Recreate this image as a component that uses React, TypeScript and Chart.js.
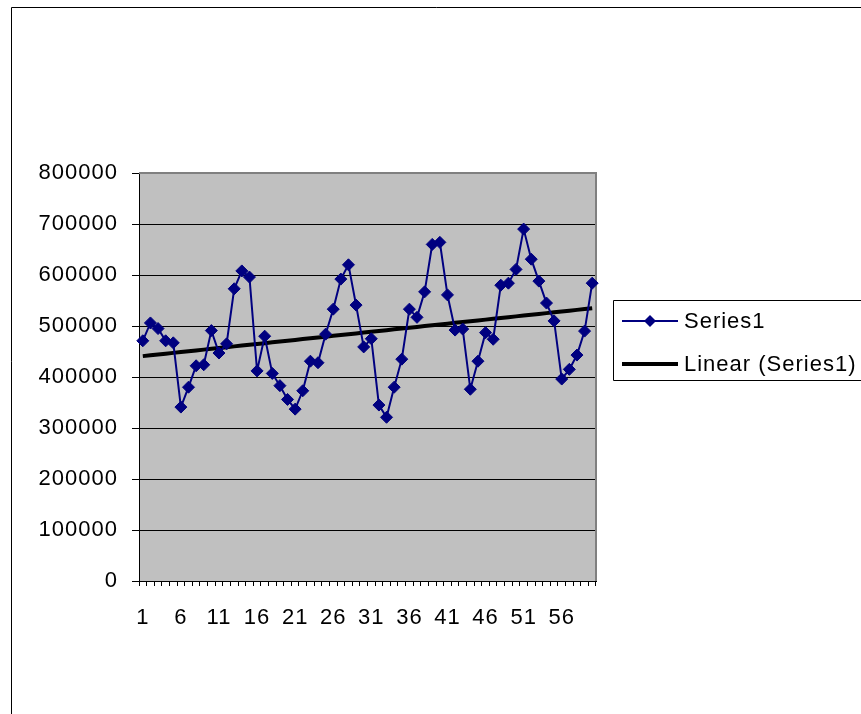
import React, { useEffect, useRef } from "react";
import { Chart, registerables } from "chart.js";

Chart.register(...registerables);

const categories: string[] = Array.from({ length: 60 }, (_, i) => String(i + 1));

const series1: number[] = [
  471000, 506000, 495000, 471000, 467000, 341000, 380000, 422000, 424000, 491000,
  447000, 465000, 573000, 608000, 596000, 412000, 480000, 407000, 383000, 356000,
  337000, 373000, 431000, 428000, 484000, 533000, 592000, 620000, 541000, 459000,
  475000, 345000, 321000, 380000, 435000, 533000, 517000, 567000, 660000, 664000,
  561000, 492000, 494000, 376000, 431000, 487000, 474000, 580000, 584000, 611000,
  690000, 631000, 588000, 545000, 510000, 396000, 415000, 443000, 490000, 584000,
];

const yTicks: number[] = [0, 100000, 200000, 300000, 400000, 500000, 600000, 700000, 800000];

const seriesLabel = "Series1";
const trendLabel = "Linear (Series1)";

function linearFit(values: number[]): number[] {
  const n = values.length;
  let sx = 0, sy = 0, sxx = 0, sxy = 0;
  values.forEach((v, i) => {
    const x = i + 1;
    sx += x; sy += v; sxx += x * x; sxy += x * v;
  });
  const b = (n * sxy - sx * sy) / (n * sxx - sx * sx);
  const a = (sy - b * sx) / n;
  return values.map((_, i) => a + b * (i + 1));
}

const FONT = "'Liberation Sans', Arial, sans-serif";

export default function App() {
  const ref = useRef<HTMLCanvasElement | null>(null);

  useEffect(() => {
    if (!ref.current) return;
    const trend = linearFit(series1);

    const spacing = {
      id: "spacing",
      beforeInit(chart: any) { chart.ctx.letterSpacing = "1px"; },
      beforeLayout(chart: any) { chart.ctx.letterSpacing = "1px"; },
      beforeDraw(chart: any) {
        const ctx = chart.ctx;
        ctx.letterSpacing = "1px";
        const a = chart.chartArea;
        ctx.save();
        ctx.fillStyle = "#ffffff";
        ctx.fillRect(0, 0, chart.width, chart.height);
        ctx.fillStyle = "#c0c0c0";
        ctx.fillRect(a.left, a.top, a.right - a.left, a.bottom - a.top);
        // outer frame
        ctx.strokeStyle = "#000000";
        ctx.lineWidth = 1;
        ctx.beginPath();
        ctx.moveTo(11.5, chart.height + 5);
        ctx.lineTo(11.5, 7.5);
        ctx.lineTo(chart.width + 5, 7.5);
        ctx.stroke();
        ctx.restore();
      },
    };

    const frame = {
      id: "frame",
      beforeDatasetsDraw(chart: any) {
        const ctx = chart.ctx;
        const a = chart.chartArea;
        ctx.save();
        ctx.strokeStyle = "#808080";
        ctx.lineWidth = 2;
        ctx.beginPath();
        ctx.moveTo(a.left, a.top);
        ctx.lineTo(a.right, a.top);
        ctx.lineTo(a.right, a.bottom);
        ctx.stroke();
        ctx.restore();
      },
      afterDraw(chart: any) {
        // legend
        const ctx = chart.ctx;
        const ds = chart.data.datasets;
        ctx.save();
        ctx.letterSpacing = "1px";
        ctx.strokeStyle = "#000000";
        ctx.lineWidth = 1;
        ctx.beginPath();
        ctx.moveTo(chart.width + 5, 300.5);
        ctx.lineTo(613.5, 300.5);
        ctx.lineTo(613.5, 380.5);
        ctx.lineTo(chart.width + 5, 380.5);
        ctx.stroke();
        const rows = [321, 364];
        ctx.font = `22px ${FONT}`;
        ctx.textBaseline = "middle";
        ctx.textAlign = "left";
        ds.forEach((d: any, i: number) => {
          const y = rows[i];
          ctx.strokeStyle = d.borderColor;
          ctx.lineWidth = d.borderWidth;
          ctx.beginPath();
          ctx.moveTo(622, y);
          ctx.lineTo(678, y);
          ctx.stroke();
          if (d.pointRadius > 0) {
            ctx.fillStyle = d.backgroundColor;
            const r = d.pointRadius;
            ctx.beginPath();
            ctx.moveTo(650, y - r);
            ctx.lineTo(650 + r, y);
            ctx.lineTo(650, y + r);
            ctx.lineTo(650 - r, y);
            ctx.closePath();
            ctx.fill();
          }
          ctx.fillStyle = "#000000";
          ctx.fillText(d.label, 684, y + 1);
        });
        ctx.restore();
      },
    };

    const chart = new Chart(ref.current, {
      type: "line",
      data: {
        labels: categories,
        datasets: [
          {
            label: seriesLabel,
            data: series1,
            borderColor: "#000080",
            backgroundColor: "#000080",
            borderWidth: 2,
            pointStyle: "rectRot",
            pointRadius: 6,
            pointBorderWidth: 1,
            pointBorderColor: "#000080",
            tension: 0,
          },
          {
            label: trendLabel,
            data: trend,
            borderColor: "#000000",
            backgroundColor: "#000000",
            borderWidth: 4,
            pointRadius: 0,
            tension: 0,
          },
        ],
      },
      options: {
        animation: false,
        responsive: false,
        devicePixelRatio: 1,
        events: [],
        layout: { padding: { left: 0, top: 173, right: 265, bottom: 0 } },
        plugins: { legend: { display: false }, tooltip: { enabled: false } },
        scales: {
          x: {
            type: "category",
            offset: true,
            grid: {
              offset: true,
              drawOnChartArea: false,
              drawTicks: true,
              tickLength: 5,
              color: "#000000",
            },
            border: { display: true, color: "#000000", width: 1 },
            ticks: {
              autoSkip: false,
              maxRotation: 0,
              minRotation: 0,
              padding: 19,
              color: "#000000",
              font: { family: FONT, size: 22 },
              callback: (_v: any, i: number) => (i % 5 === 0 ? categories[i] : ""),
            },
            afterFit: (s: any) => { s.height = 133; },
          },
          y: {
            min: 0,
            max: 800000,
            afterBuildTicks: (s: any) => { s.ticks = yTicks.map((v) => ({ value: v })); },
            grid: { color: "#000000", lineWidth: 1, tickLength: 7, drawTicks: true },
            border: { display: true, color: "#000000", width: 1 },
            ticks: {
              padding: 14,
              color: "#000000",
              font: { family: FONT, size: 22 },
              callback: (v: any) => String(v),
            },
            afterFit: (s: any) => { s.width = 139; },
          },
        },
      },
      plugins: [spacing, frame],
    });
    return () => chart.destroy();
  }, []);

  return (
    <div style={{ position: "fixed", left: 0, top: 0, width: 861, height: 714, background: "#fff" }}>
      <canvas ref={ref} width={861} height={714} style={{ display: "block", width: 861, height: 714 }} />
    </div>
  );
}
